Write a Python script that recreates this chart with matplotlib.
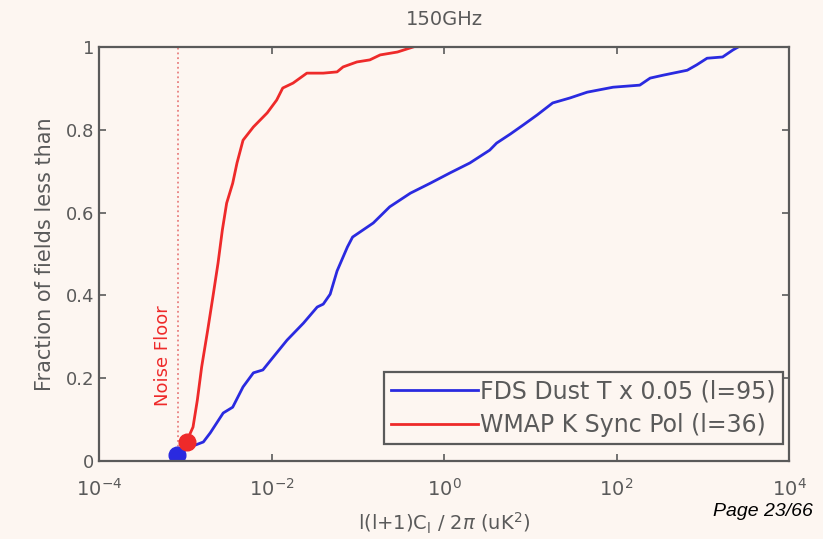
import matplotlib
matplotlib.use("Agg")
import matplotlib.pyplot as plt
import numpy as np

# values (x as log10 of l(l+1)Cl/2pi)
dust_logx = [-3.10, -2.94, -2.79, -2.71, -2.56, -2.45, -2.33, -2.21, -2.10, -1.98,
             -1.82, -1.63, -1.47, -1.40, -1.32, -1.24, -1.12, -1.06, -0.82, -0.63,
             -0.39, -0.16, 0.07, 0.30, 0.53, 0.61, 0.77, 0.92, 1.08, 1.26,
             1.46, 1.66, 1.96, 2.27, 2.39, 2.54, 2.82, 2.93, 3.05, 3.23,
             3.35, 3.41]
dust_frac = [0.014, 0.034, 0.046, 0.068, 0.116, 0.130, 0.179, 0.213, 0.220, 0.251,
             0.292, 0.333, 0.372, 0.379, 0.403, 0.459, 0.517, 0.541, 0.575, 0.614,
             0.647, 0.671, 0.696, 0.720, 0.751, 0.768, 0.790, 0.812, 0.836, 0.865,
             0.877, 0.891, 0.903, 0.908, 0.925, 0.932, 0.944, 0.957, 0.973, 0.976,
             0.993, 1.000]

sync_logx = [-2.98, -2.94, -2.91, -2.86, -2.81, -2.74, -2.68, -2.62, -2.57, -2.52,
             -2.45, -2.40, -2.33, -2.21, -2.05, -1.94, -1.87, -1.75, -1.59, -1.40,
             -1.24, -1.17, -1.01, -0.86, -0.74, -0.54, -0.36]
sync_frac = [0.046, 0.068, 0.082, 0.147, 0.227, 0.316, 0.396, 0.478, 0.558, 0.623,
             0.671, 0.720, 0.775, 0.807, 0.841, 0.872, 0.901, 0.913, 0.937, 0.937,
             0.940, 0.952, 0.964, 0.969, 0.981, 0.988, 1.000]

noise_floor = 8.3e-4
dust_label = 'FDS Dust T x 0.05 (l=95)'
sync_label = 'WMAP K Sync Pol (l=36)'

bg = '#fdf6f1'
grey = '#5a5a5a'
blue = '#2a2ae0'
red = '#ee2a2a'

plt.rcParams['font.family'] = ['DejaVu Sans']
plt.rcParams['mathtext.fontset'] = 'dejavusans'

fig = plt.figure(figsize=(8.23, 5.39), dpi=100, facecolor=bg)
ax = fig.add_axes([0.1203, 0.1447, 0.8384, 0.768], facecolor=bg)

dx = 10 ** np.array(dust_logx)
sx = 10 ** np.array(sync_logx)

ax.axvline(noise_floor, linestyle=':', color='#e88080', linewidth=1.3)
ax.plot(dx, dust_frac, color=blue, linewidth=2, label=dust_label)
ax.plot(sx, sync_frac, color=red, linewidth=2, label=sync_label)
ax.plot(dx[0], dust_frac[0], 'o', color=blue, markersize=12)
ax.plot(sx[0], sync_frac[0], 'o', color=red, markersize=12)

ax.text(5.5e-4, 0.255, 'Noise Floor', rotation=90, color=red,
        fontsize=13, ha='center', va='center')

ax.set_xscale('log')
ax.set_xlim(1e-4, 1e4)
ax.set_ylim(0, 1)
ax.set_xticks([1e-4, 1e-2, 1e0, 1e2, 1e4])
ax.xaxis.set_minor_locator(matplotlib.ticker.NullLocator())
ax.set_yticks([0, 0.2, 0.4, 0.6, 0.8, 1])
ax.set_yticklabels(['0', '0.2', '0.4', '0.6', '0.8', '1'])
ax.tick_params(direction='in', top=True, right=True, length=5, width=1.2,
               colors=grey, labelsize=13, labelcolor=grey)
ax.tick_params(axis='x', pad=12, labelsize=14)
for s in ax.spines.values():
    s.set_color(grey)
    s.set_linewidth(1.6)

ax.set_title('150GHz', color=grey, fontsize=14, pad=16)
ax.set_ylabel('Fraction of fields less than', color=grey, fontsize=15, labelpad=8)
ax.set_xlabel(r'l(l+1)C$_\mathrm{l}$ / 2$\pi$ (uK$^2$)', color=grey, fontsize=14,
              labelpad=8)

leg = ax.legend(loc='lower right', bbox_to_anchor=(0.998, 0.03), fontsize=17,
                handlelength=3.7, handletextpad=0.1, borderpad=0.3,
                labelspacing=0.4, borderaxespad=0.2, fancybox=False, framealpha=1)
leg.get_frame().set_edgecolor(grey)
leg.get_frame().set_linewidth(1.6)
leg.get_frame().set_facecolor(bg)
for t in leg.get_texts():
    t.set_color(grey)

fig.text(713 / 823, 1 - 516 / 539, 'Page 23/66', family='Liberation Sans',
         fontsize=14, style='italic', color='black', ha='left', va='baseline')

fig.savefig('out.png', dpi=100, facecolor=bg)
